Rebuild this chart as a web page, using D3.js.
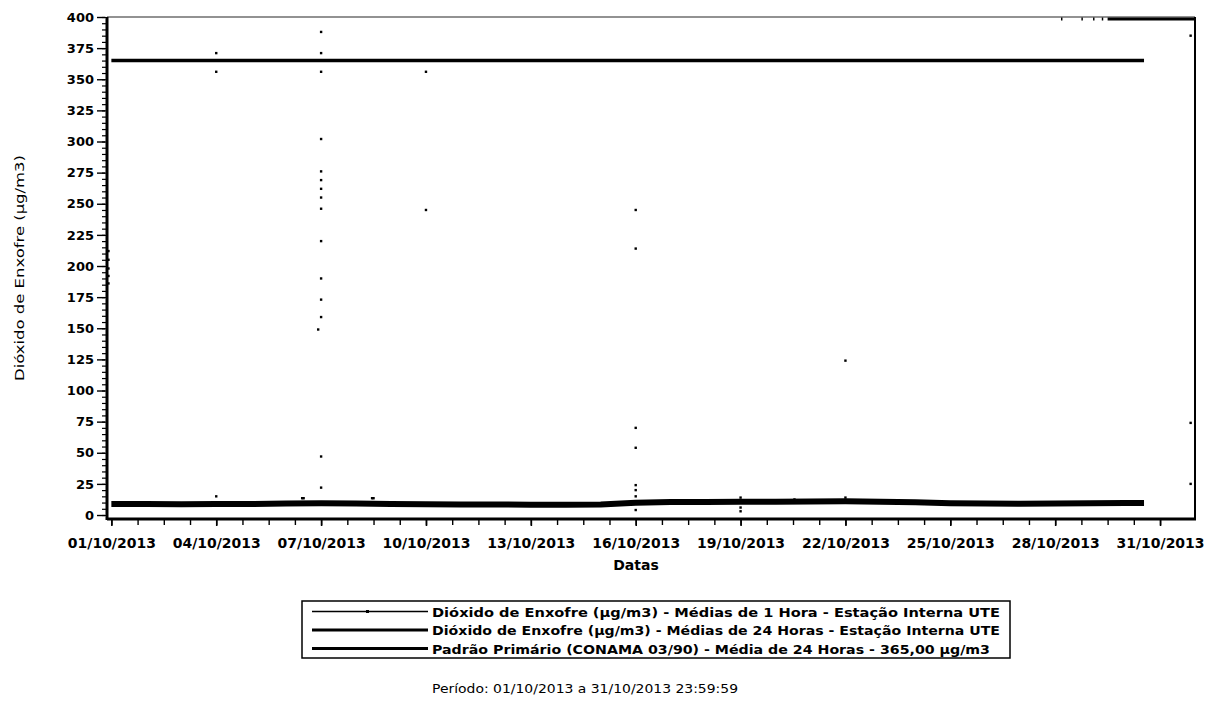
<!DOCTYPE html>
<html>
<head>
<meta charset="utf-8">
<script src="https://cdn.jsdelivr.net/npm/d3@7"></script>
<style>
  body { margin: 0; background: #fff; }
  svg { display: block; }
  text { font-family: "DejaVu Sans", "Liberation Sans", sans-serif; fill: #000; }
</style>
</head>
<body>
<svg id="chart" width="1213" height="709"></svg>
<script>
// ---- data -------------------------------------------------------------
const timeDomain = ["2013-09-30T21:00", "2013-11-01T00:00"];
const valueDomain = [-3.2, 400];

const yTickValues = [0, 25, 50, 75, 100, 125, 150, 175, 200, 225, 250, 275, 300, 325, 350, 375, 400];
const xTickLabels = ["01/10/2013", "04/10/2013", "07/10/2013", "10/10/2013", "13/10/2013", "16/10/2013",
                     "19/10/2013", "22/10/2013", "25/10/2013", "28/10/2013", "31/10/2013"];

// 24-hour moving average (µg/m3)
const mean24Times = ["2013-10-01T00:00", "2013-10-02T00:00", "2013-10-03T00:00", "2013-10-04T00:00",
  "2013-10-05T00:00", "2013-10-06T00:00", "2013-10-07T00:00", "2013-10-08T00:00", "2013-10-09T00:00",
  "2013-10-10T00:00", "2013-10-11T00:00", "2013-10-12T00:00", "2013-10-13T00:00", "2013-10-14T00:00",
  "2013-10-15T00:00", "2013-10-16T00:00", "2013-10-17T00:00", "2013-10-18T00:00", "2013-10-19T00:00",
  "2013-10-20T00:00", "2013-10-21T00:00", "2013-10-22T00:00", "2013-10-23T00:00", "2013-10-24T00:00",
  "2013-10-25T00:00", "2013-10-26T00:00", "2013-10-27T00:00", "2013-10-28T00:00", "2013-10-29T00:00",
  "2013-10-30T00:00", "2013-10-30T13:00"];
const mean24Values = [8.8, 8.9, 8.7, 8.8, 8.9, 9.2, 9.4, 9.3, 8.8, 8.6, 8.5, 8.5, 8.3, 8.2,
  8.4, 9.8, 10.4, 10.5, 10.6, 10.7, 10.9, 11.0, 10.6, 10.2, 9.4, 9.2, 9.0, 9.3, 9.5, 9.6, 9.6];

// hourly averages standing out of the daily band (µg/m3)
const hourlyTimes = [
  "2013-09-30T22:00", "2013-09-30T22:00", "2013-09-30T22:00", "2013-09-30T22:00", "2013-09-30T22:00",
  "2013-10-04T00:00", "2013-10-04T00:00", "2013-10-04T00:00",
  "2013-10-06T11:00", "2013-10-06T12:00",
  "2013-10-07T00:00", "2013-10-07T00:00", "2013-10-07T00:00", "2013-10-07T00:00", "2013-10-07T00:00",
  "2013-10-07T00:00", "2013-10-07T00:00", "2013-10-07T00:00", "2013-10-07T00:00", "2013-10-07T00:00",
  "2013-10-07T00:00", "2013-10-07T00:00", "2013-10-07T00:00", "2013-10-06T22:00", "2013-10-07T00:00",
  "2013-10-07T00:00",
  "2013-10-08T11:00", "2013-10-08T12:00",
  "2013-10-10T00:00", "2013-10-10T00:00",
  "2013-10-16T00:00", "2013-10-16T00:00", "2013-10-16T00:00", "2013-10-16T00:00", "2013-10-16T00:00",
  "2013-10-16T00:00", "2013-10-16T00:00", "2013-10-16T00:00",
  "2013-10-19T00:00", "2013-10-19T00:00", "2013-10-19T00:00",
  "2013-10-20T13:00",
  "2013-10-22T00:00", "2013-10-22T00:00",
  "2013-10-31T21:00", "2013-10-31T21:00", "2013-10-31T21:00"];
const hourlyValues = [
  186, 192, 198, 205, 212,
  371, 356, 15,
  13.5, 13.5,
  388, 371, 356, 302, 276, 269, 262, 255, 246, 220, 190, 173, 159, 149, 47, 22,
  13.5, 13.5,
  356, 245,
  245, 214, 70, 54, 24, 20, 15, 4,
  14, 6, 3,
  12.5,
  124, 14,
  385, 74, 25];

// hours whose readings exceed the top of the scale
const overScaleSpans = [
  ["2013-10-28T04:00", "2013-10-28T05:00"],
  ["2013-10-28T18:00", "2013-10-28T19:00"],
  ["2013-10-29T02:00", "2013-10-29T03:00"],
  ["2013-10-29T08:00", "2013-10-29T09:00"],
  ["2013-10-29T12:00", "2013-11-01T00:00"]];

// primary standard, CONAMA 03/90
const standardValue = 365;
const standardSpan = ["2013-10-01T00:00", "2013-10-30T13:00"];

const legendLabels = [
  "Dióxido de Enxofre (µg/m3) - Médias de 1 Hora - Estação Interna UTE",
  "Dióxido de Enxofre (µg/m3) - Médias de 24 Horas - Estação Interna UTE",
  "Padrão Primário (CONAMA 03/90) - Média de 24 Horas - 365,00 µg/m3"];
const yTitle = "Dióxido de Enxofre (µg/m3)";
const xTitle = "Datas";
const periodText = "Período: 01/10/2013 a 31/10/2013 23:59:59";

// ---- drawing ----------------------------------------------------------
const parseTime = d3.timeParse("%Y-%m-%dT%H:%M");
const parseDay = d3.timeParse("%d/%m/%Y");
const svg = d3.select("#chart");
const plot = { left: 107, right: 1195, top: 17, bottom: 519 };

const x = d3.scaleTime().domain(timeDomain.map(parseTime)).range([plot.left, plot.right]);
const y = d3.scaleLinear().domain(valueDomain).range([plot.bottom, plot.top]);

// y axis: minor ticks every 5, labelled ticks every 25
const yMinor = svg.append("g").attr("transform", `translate(${plot.left - 1},0)`)
  .call(d3.axisLeft(y).tickValues(d3.range(0, 401, 5)).tickSize(4).tickFormat(""));
yMinor.select(".domain").remove();
yMinor.selectAll("line").attr("stroke", "#000").attr("stroke-width", 1.2);

const yAxis = svg.append("g").attr("transform", `translate(${plot.left - 2},0)`)
  .call(d3.axisLeft(y).tickValues(yTickValues).tickSize(8).tickPadding(3));
yAxis.select(".domain").remove();
yAxis.selectAll("line").attr("stroke", "#000").attr("stroke-width", 1.4);
yAxis.selectAll("text").attr("font-size", 13).attr("font-weight", "bold")
  .attr("font-family", '"DejaVu Sans", sans-serif').attr("fill", "#000");

// x axis: ticks every 18 hours, labelled every 3 days
const tickStart = parseDay(xTickLabels[0]);
const minorTicks = d3.range(0, 41).map(i => d3.timeHour.offset(tickStart, i * 18));
const xMinor = svg.append("g").attr("transform", `translate(0,${plot.bottom})`)
  .call(d3.axisBottom(x).tickValues(minorTicks).tickSize(6).tickFormat(""));
xMinor.select(".domain").remove();
xMinor.selectAll("line").attr("stroke", "#000").attr("stroke-width", 1.4);

const xAxis = svg.append("g").attr("transform", `translate(0,${plot.bottom})`)
  .call(d3.axisBottom(x).tickValues(xTickLabels.map(parseDay))
    .tickFormat(d3.timeFormat("%d/%m/%Y")).tickSize(7).tickPadding(12));
xAxis.select(".domain").remove();
xAxis.selectAll("line").attr("stroke", "#000").attr("stroke-width", 1.6);
xAxis.selectAll("text").attr("font-size", 14).attr("font-weight", "bold")
  .attr("font-family", '"DejaVu Sans", sans-serif').attr("fill", "#000")
  .attr("textLength", 88).attr("lengthAdjust", "spacingAndGlyphs");

// plot frame
svg.append("line").attr("x1", plot.left).attr("x2", plot.right)
  .attr("y1", plot.top).attr("y2", plot.top).attr("stroke", "#6e6e6e").attr("stroke-width", 1.6);
svg.append("line").attr("x1", plot.right).attr("x2", plot.right)
  .attr("y1", plot.top).attr("y2", plot.bottom).attr("stroke", "#000").attr("stroke-width", 2);
svg.append("line").attr("x1", plot.left).attr("x2", plot.left)
  .attr("y1", plot.top).attr("y2", plot.bottom + 1).attr("stroke", "#000").attr("stroke-width", 3);
svg.append("line").attr("x1", plot.left).attr("x2", plot.right + 1)
  .attr("y1", plot.bottom).attr("y2", plot.bottom).attr("stroke", "#000").attr("stroke-width", 3);

// primary standard line
svg.append("line")
  .attr("x1", x(parseTime(standardSpan[0]))).attr("x2", x(parseTime(standardSpan[1])))
  .attr("y1", y(standardValue)).attr("y2", y(standardValue))
  .attr("stroke", "#000").attr("stroke-width", 3.5);

// readings above the scale, pinned to the top edge
svg.append("g").selectAll("line").data(overScaleSpans).join("line")
  .attr("x1", d => x(parseTime(d[0]))).attr("x2", d => x(parseTime(d[1])))
  .attr("y1", y(valueDomain[1]) + 2).attr("y2", y(valueDomain[1]) + 2)
  .attr("stroke", "#000").attr("stroke-width", 3);

// 24-hour average
const mean24 = mean24Times.map((t, i) => ({ t: parseTime(t), v: mean24Values[i] }));
svg.append("path").datum(mean24)
  .attr("d", d3.line().x(d => x(d.t)).y(d => y(d.v)))
  .attr("fill", "none").attr("stroke", "#000").attr("stroke-width", 6)
  .attr("stroke-linejoin", "round");

// hourly averages as point markers
const hourly = hourlyTimes.map((t, i) => ({ t: parseTime(t), v: hourlyValues[i] }));
svg.append("g").selectAll("rect").data(hourly).join("rect")
  .attr("x", d => x(d.t) - 1.2).attr("y", d => y(d.v) - 1.2)
  .attr("width", 2.4).attr("height", 2.4).attr("fill", "#000");

// axis titles
svg.append("text").attr("transform", `translate(24,${(plot.top + plot.bottom) / 2}) rotate(-90)`)
  .attr("text-anchor", "middle").attr("font-size", 13)
  .attr("textLength", 226).attr("lengthAdjust", "spacingAndGlyphs").text(yTitle);
svg.append("text").attr("x", 636).attr("y", 570).attr("text-anchor", "middle")
  .attr("font-size", 14).attr("font-weight", "bold").text(xTitle);

// legend
const legend = { x: 302, y: 601, w: 708, h: 57, rowGap: 18.5, sampleX0: 312, sampleX1: 428, textX: 432 };
svg.append("rect").attr("x", legend.x).attr("y", legend.y).attr("width", legend.w).attr("height", legend.h)
  .attr("fill", "none").attr("stroke", "#000").attr("stroke-width", 1.5);
const legendWidths = [568, 568, 558];
const legendStrokes = [1.3, 3.2, 3.2];
legendLabels.forEach((label, i) => {
  const cy = legend.y + 10.5 + i * legend.rowGap;
  svg.append("line").attr("x1", legend.sampleX0).attr("x2", legend.sampleX1)
    .attr("y1", cy).attr("y2", cy).attr("stroke", "#000").attr("stroke-width", legendStrokes[i]);
  if (i === 0) {
    svg.append("rect").attr("x", 366).attr("y", cy - 1.5).attr("width", 3).attr("height", 3).attr("fill", "#000");
  }
  svg.append("text").attr("x", legend.textX).attr("y", cy + 5)
    .attr("font-size", 13).attr("font-weight", "bold")
    .attr("textLength", legendWidths[i]).attr("lengthAdjust", "spacingAndGlyphs").text(label);
});

svg.append("text").attr("x", 432).attr("y", 693).attr("font-size", 13)
  .attr("textLength", 306).attr("lengthAdjust", "spacingAndGlyphs").text(periodText);
</script>
</body>
</html>
